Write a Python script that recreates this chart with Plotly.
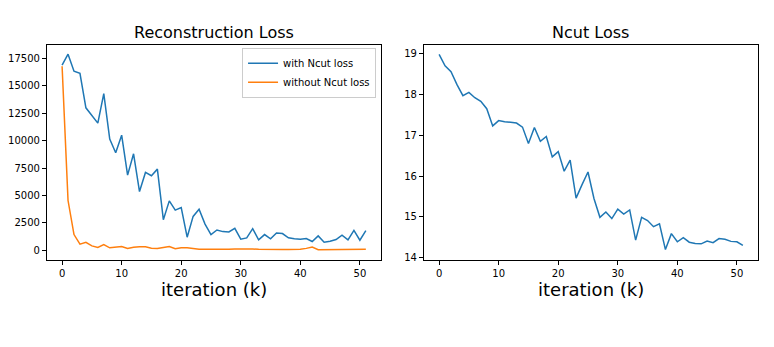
import plotly.graph_objects as go

# iterations (k)
iters = list(range(52))

# Reconstruction loss, trained with Ncut loss
recon_with_ncut = [16900, 17900, 16350, 16150, 13000, 12300, 11600, 14300, 10150, 8900,
                   10500, 6850, 8800, 5350, 7100, 6800, 7400, 2780, 4500, 3650,
                   3890, 1180, 3080, 3740, 2380, 1420, 1840, 1690, 1660, 1990,
                   1000, 1120, 1960, 935, 1420, 1030, 1570, 1510, 1120, 1030,
                   1000, 1060, 785, 1300, 725, 815, 965, 1360, 935, 1810,
                   905, 1780]

# Reconstruction loss, trained without Ncut loss
recon_without_ncut = [16800, 4530, 1420, 540, 720, 390, 240, 510, 210, 240,
                      330, 150, 270, 300, 300, 180, 150, 240, 330, 120,
                      210, 210, 120, 90, 80, 70, 90, 60, 80, 100,
                      110, 60, 100, 70, 80, 90, 70, 60, 50, 60,
                      70, 160, 280, 40, 50, 40, 50, 70, 80, 60,
                      70, 90]

# Ncut loss
ncut_loss = [18.98, 18.70, 18.56, 18.24, 17.97, 18.05, 17.92, 17.83, 17.65, 17.23,
             17.36, 17.33, 17.32, 17.30, 17.20, 16.80, 17.19, 16.85, 16.97, 16.47,
             16.60, 16.12, 16.39, 15.46, 15.79, 16.10, 15.45, 14.99, 15.12, 14.96,
             15.19, 15.07, 15.17, 14.43, 14.99, 14.91, 14.76, 14.83, 14.20, 14.59,
             14.39, 14.49, 14.38, 14.35, 14.34, 14.41, 14.37, 14.47, 14.45, 14.40,
             14.39, 14.30]

# page has an 8px body margin, so the figure is 8px smaller and positions are offset
OFF = 8
W, H = 774 - OFF, 347 - OFF
FONT = "DejaVu Sans"


def px_x(p):
    return (p - OFF) / W


def px_y(p):
    return (H - (p - OFF)) / H


fig = go.Figure()

fig.add_trace(go.Scatter(x=iters, y=recon_with_ncut, mode="lines", name="with Ncut loss",
                         line=dict(color="#1f77b4", width=1.5), xaxis="x", yaxis="y"))
fig.add_trace(go.Scatter(x=iters, y=recon_without_ncut, mode="lines", name="without Ncut loss",
                         line=dict(color="#ff7f0e", width=1.5), xaxis="x", yaxis="y"))
fig.add_trace(go.Scatter(x=iters, y=ncut_loss, mode="lines", showlegend=False,
                         line=dict(color="#1f77b4", width=1.5), xaxis="x2", yaxis="y2"))

ax = dict(showline=True, mirror=True, linecolor="black", linewidth=1, showgrid=False,
          zeroline=False, ticks="outside", ticklen=4, tickwidth=1, tickcolor="black",
          tickformat="d", tickfont=dict(family=FONT, size=10, color="black"))

ydom = [px_y(262), px_y(45)]
fig.update_layout(
    width=W, height=H,
    margin=dict(l=0, r=0, t=0, b=0),
    plot_bgcolor="white", paper_bgcolor="white",
    font=dict(family=FONT, size=10, color="black"),
    xaxis=dict(ax, domain=[px_x(45), px_x(380)], range=[-2.55, 53.55],
               tickvals=[0, 10, 20, 30, 40, 50]),
    yaxis=dict(ax, domain=ydom, range=[-880, 18770],
               tickvals=[0, 2500, 5000, 7500, 10000, 12500, 15000, 17500]),
    xaxis2=dict(ax, domain=[px_x(423), px_x(758)], range=[-2.55, 53.55],
                tickvals=[0, 10, 20, 30, 40, 50], anchor="y2"),
    yaxis2=dict(ax, domain=ydom, range=[13.95, 19.22], anchor="x2",
                tickvals=[14, 15, 16, 17, 18, 19], tickformat=".0f"),
    legend=dict(x=px_x(375), y=px_y(48), xanchor="right", yanchor="top",
                bgcolor="rgba(255,255,255,0.8)", bordercolor="#cccccc", borderwidth=1,
                font=dict(family=FONT, size=10, color="black"), tracegroupgap=0),
    showlegend=True,
)

for cx, title in [((45 + 380) / 2, "Reconstruction Loss"), ((423 + 758) / 2, "Ncut Loss")]:
    fig.add_annotation(x=px_x(cx), y=px_y(33), xref="paper", yref="paper", text=title,
                       xanchor="center", yanchor="middle", showarrow=False,
                       font=dict(family=FONT, size=16, color="black"))
    fig.add_annotation(x=px_x(cx), y=px_y(292), xref="paper", yref="paper", text="iteration (k)",
                       xanchor="center", yanchor="middle", showarrow=False,
                       font=dict(family=FONT, size=18, color="black"))

fig.write_html("out.html")
